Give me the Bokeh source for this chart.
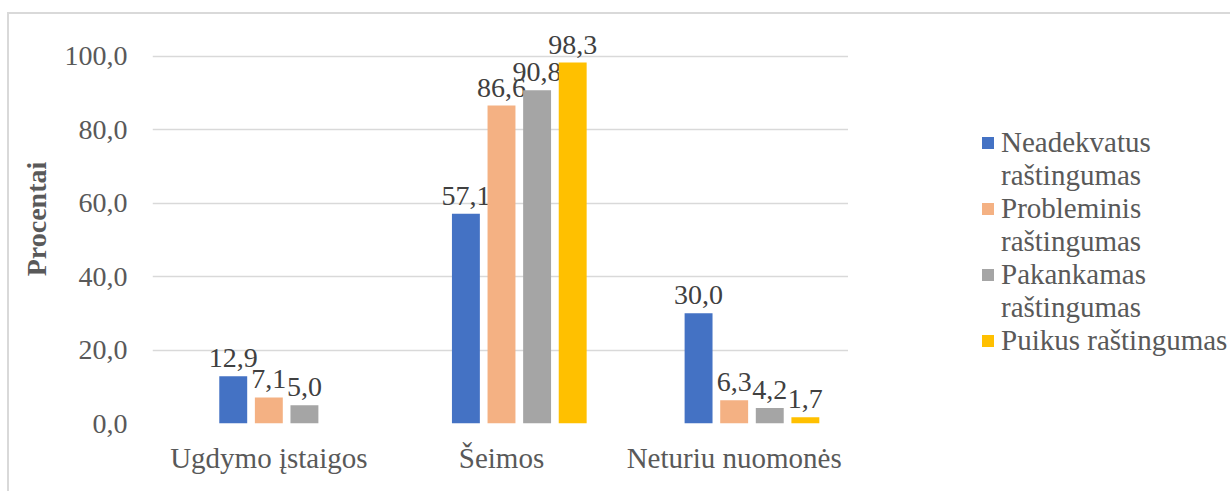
from bokeh.plotting import figure
from bokeh.layouts import row
from bokeh.models import (ColumnDataSource, FactorRange, Range1d, FixedTicker,
                          Legend, LegendItem)
from bokeh.transform import dodge
from bokeh.core.properties import value
from bokeh.embed import file_html
from bokeh.resources import INLINE

# Survey answers (percent) per group
categories = ["Ugdymo įstaigos", "Šeimos", "Neturiu nuomonės"]
neadekvatus = [12.9, 57.1, 30.0]
probleminis = [7.1, 86.6, 6.3]
pakankamas = [5.0, 90.8, 4.2]
puikus = [0.0, 98.3, 1.7]

series_names = [
    ("Neadekvatus", "raštingumas"),
    ("Probleminis", "raštingumas"),
    ("Pakankamas", "raštingumas"),
    ("Puikus raštingumas", None),
]
series_values = [neadekvatus, probleminis, pakankamas, puikus]
colors = ["#4472C4", "#F4B183", "#A5A5A5", "#FFC000"]
offsets = [-0.153, 0.0, 0.153, 0.306]

y_ticks = [0, 20, 40, 60, 80, 100]

FONT = "Liberation Serif"
AXIS_TEXT = "#595959"
LABEL_TEXT = "#404040"
GRID = "#D9D9D9"
BORDER = "2px solid #D9D9D9"

# main bar chart
p = figure(
    width=841, height=479,
    x_range=FactorRange(*categories, range_padding=0),
    y_range=Range1d(0, 111.4),
    output_backend="svg", toolbar_location=None,
    min_border_left=143, min_border_right=0,
    min_border_top=0, min_border_bottom=70,
    outline_line_color=None,
)
p.margin = (12, 0, 0, 7)
p.styles = {"border-top": BORDER, "border-left": BORDER}

sources = []
for vals, col, off in zip(series_values, colors, offsets):
    src = ColumnDataSource(dict(
        cat=categories,
        val=vals,
        lab=[f"{v:.1f}".replace(".", ",") if v > 0 else "" for v in vals],
    ))
    sources.append(src)
    p.vbar(x=dodge("cat", off, range=p.x_range), top="val", width=0.12,
           source=src, fill_color=col, line_color=None)
    p.text(x=dodge("cat", off, range=p.x_range), y="val", text="lab", source=src,
           text_align="center", text_baseline="alphabetic", y_offset=-18,
           text_font=value(FONT), text_font_size="28px", text_color=LABEL_TEXT)

# y axis
p.yaxis.ticker = FixedTicker(ticks=y_ticks)
p.yaxis.major_label_overrides = {t: f"{t:.1f}".replace(".", ",") for t in y_ticks}
p.yaxis.axis_line_color = None
p.yaxis.major_tick_line_color = None
p.yaxis.minor_tick_line_color = None
p.yaxis.major_tick_out = 0
p.yaxis.major_tick_in = 0
p.yaxis.major_label_standoff = 25
p.yaxis.major_label_text_font = FONT
p.yaxis.major_label_text_font_size = "28px"
p.yaxis.major_label_text_color = AXIS_TEXT
p.yaxis.axis_label = "Procentai"
p.yaxis.axis_label_text_font = FONT
p.yaxis.axis_label_text_font_size = "28px"
p.yaxis.axis_label_text_font_style = "bold"
p.yaxis.axis_label_text_color = AXIS_TEXT
p.yaxis.axis_label_standoff = 10

# x axis
p.xaxis.axis_line_color = None
p.xaxis.major_tick_line_color = None
p.xaxis.major_tick_out = 0
p.xaxis.major_tick_in = 0
p.xaxis.major_label_standoff = 18
p.xaxis.major_label_text_font = FONT
p.xaxis.major_label_text_font_size = "29px"
p.xaxis.major_label_text_color = AXIS_TEXT

p.xgrid.grid_line_color = None
p.ygrid.grid_line_color = GRID
p.ygrid.grid_line_width = 1.5

# legend panel to the right of the chart; its renderers are hidden so
# only their legend swatches are drawn
q = figure(
    width=382, height=479,
    x_range=FactorRange(*categories, range_padding=0),
    y_range=Range1d(0, 111.4),
    x_axis_type=None, y_axis_type=None,
    output_backend="svg", toolbar_location=None,
    min_border_left=0, min_border_right=0,
    min_border_top=0, min_border_bottom=0,
    outline_line_color=None,
)
q.margin = (12, 0, 0, 0)
q.styles = {"border-top": BORDER}
q.xgrid.grid_line_color = None
q.ygrid.grid_line_color = None

legend_items = []
for (first, second), src, col in zip(series_names, sources, colors):
    swatch = q.vbar(x="cat", top="val", width=0.12, source=src,
                    fill_color=col, line_color=None, visible=False)
    legend_items.append(LegendItem(label=first, renderers=[swatch]))
    if second:
        blank = q.vbar(x="cat", top="val", width=0.12, source=src,
                       fill_alpha=0, line_alpha=0, visible=False)
        legend_items.append(LegendItem(label=second, renderers=[blank]))

legend = Legend(items=legend_items, location=(132, 66),
                glyph_width=15, glyph_height=15, label_height=33, spacing=0,
                label_standoff=6, padding=0, margin=0,
                border_line_color=None, background_fill_alpha=0,
                inactive_fill_alpha=0,
                label_text_font=FONT, label_text_font_size="29px",
                label_text_color=AXIS_TEXT)
q.add_layout(legend, "center")

open("out.html", "w").write(file_html(row(p, q), INLINE))
